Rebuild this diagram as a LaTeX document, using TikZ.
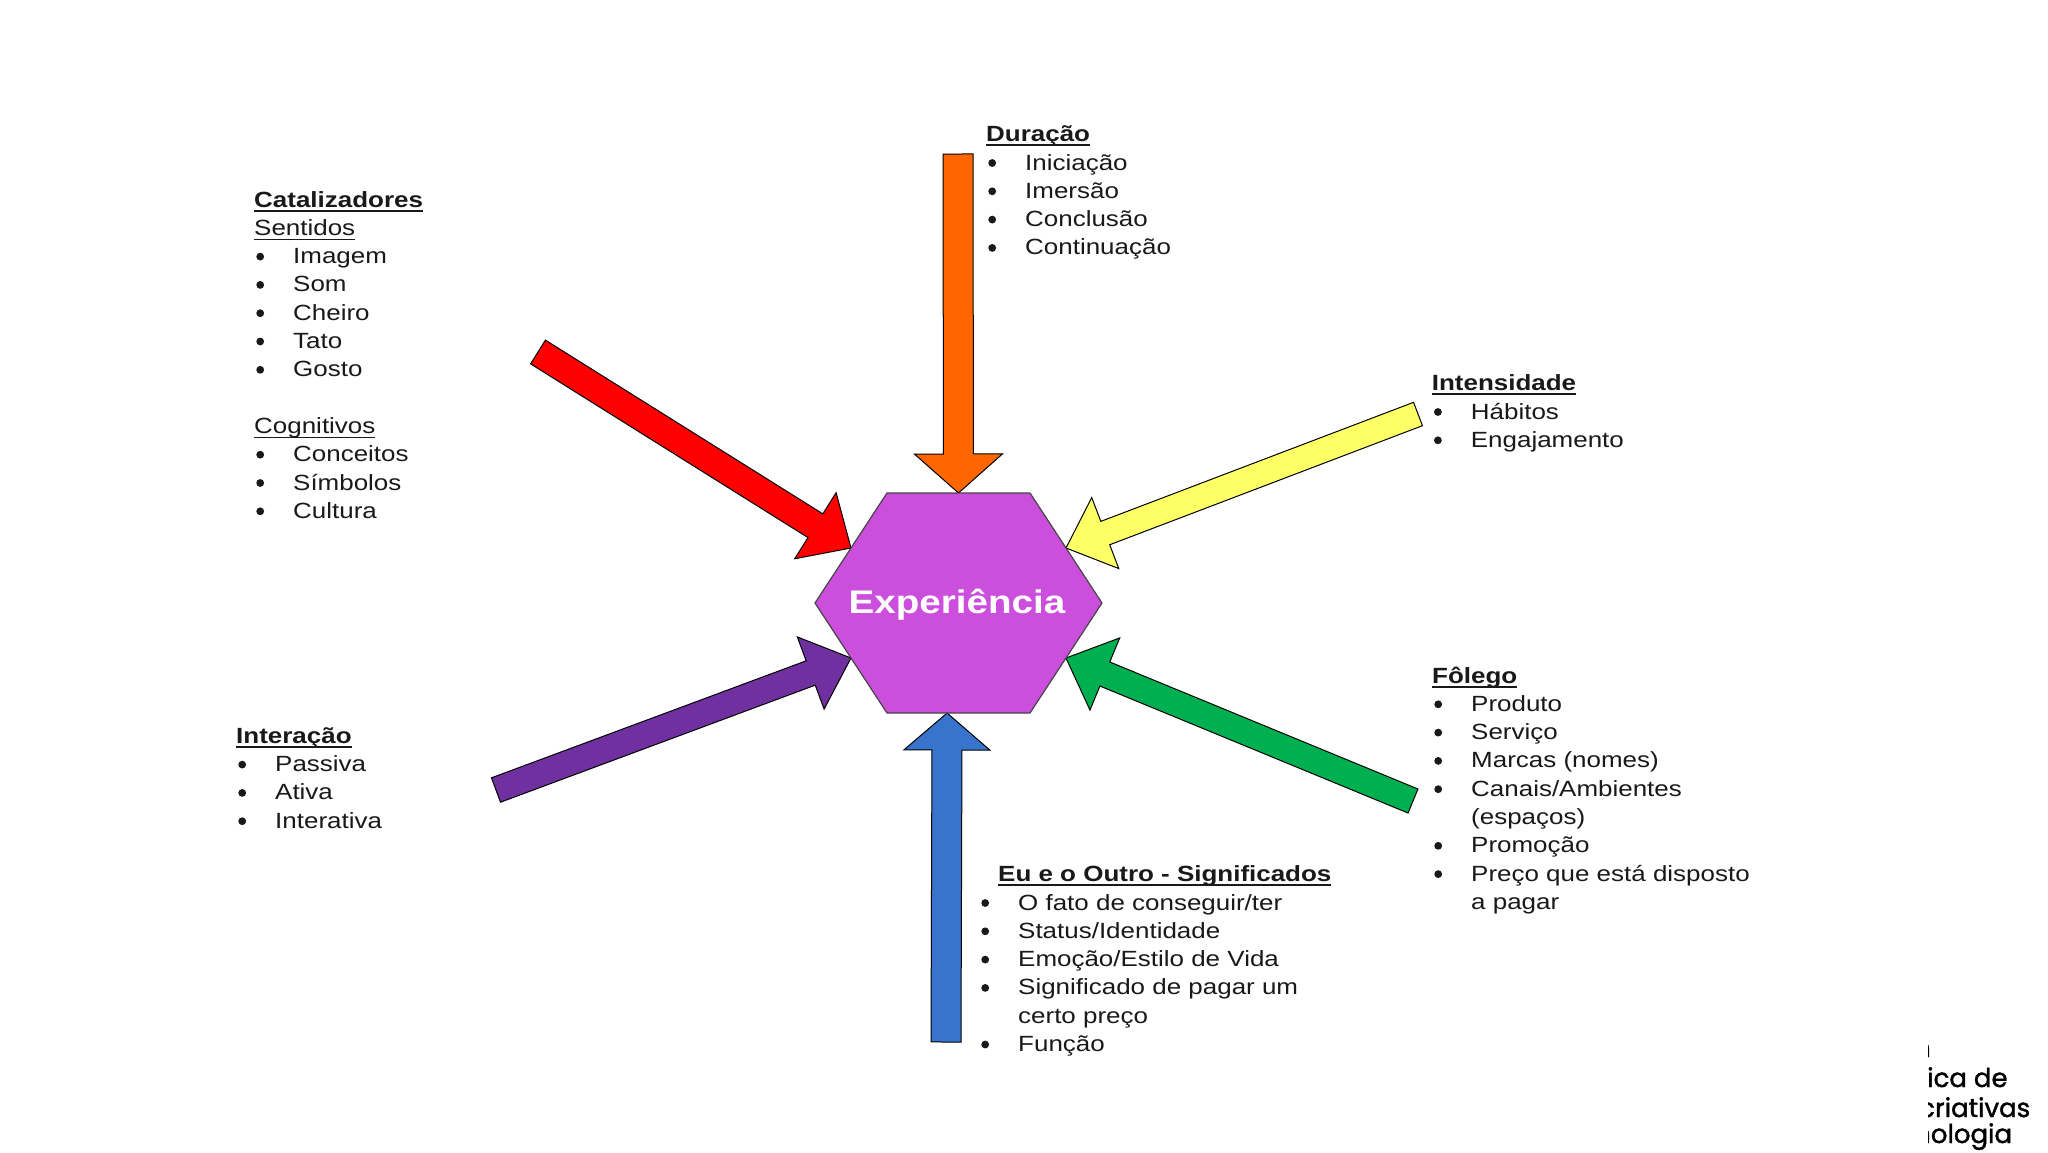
\documentclass[tikz,border=0pt]{standalone}
\usepackage{fontspec}
\setmainfont{Liberation Sans}[FakeStretch=1.18]
\newfontfamily\logofont{Poppins}[FakeBold=1.5]
\usetikzlibrary{calc}

\definecolor{hexfill}{RGB}{204,78,220}
\definecolor{hexline}{RGB}{70,70,70}
\definecolor{arrred}{RGB}{255,0,0}
\definecolor{arrorange}{RGB}{255,102,0}
\definecolor{arryellow}{RGB}{255,255,102}
\definecolor{arrgreen}{RGB}{0,176,80}
\definecolor{arrblue}{RGB}{56,116,204}
\definecolor{arrpurple}{RGB}{112,48,160}
\definecolor{txtcol}{RGB}{25,25,25}

% block arrow: #1 tail, #2 tip, #3 fill, #4 half shaft, #5 half head, #6 head length
\newcommand\barrow[6]{%
  \coordinate (hb) at ($(#2)!#6pt!(#1)$);
  \filldraw[blockarrow, fill=#3]
    ($(#1)!#4pt!90:(#2)$) -- ($(hb)!#4pt!90:(#2)$) -- ($(hb)!#5pt!90:(#2)$) -- (#2)
    -- ($(hb)!#5pt!-90:(#2)$) -- ($(hb)!#4pt!-90:(#2)$) -- ($(#1)!#4pt!-90:(#2)$) -- cycle;}

\newcommand\blk[1]{\vtop{\baselineskip=28.3pt\lineskiplimit=-100pt\lineskip=0pt\halign{##\hfil\cr#1\crcr}}}
\newcommand\ulin[2]{\setbox0=\hbox{#1}\rlap{\rule[-4.6pt]{\wd0}{#2pt}}\box0}
\newcommand\hd[1]{\ulin{\bfseries #1}{2}}
\newcommand\sbh[1]{\ulin{#1}{1.4}}
\newcommand\bdot{\tikz[x=1pt,y=1pt,baseline=0pt]{\useasboundingbox (0,0) rectangle (8,11);\fill[txtcol] (4,7) circle[radius=3.9];}}
\newcommand\bi[1]{\makebox[39pt][l]{\hspace{2pt}\bdot}#1}

\begin{document}
\begin{tikzpicture}[x=1pt,y=-1pt,
  blockarrow/.style={draw=black, line width=1pt, line join=miter},
  txt/.style={anchor=base west, inner sep=0pt, text=txtcol, font=\fontsize{22}{28.3}\selectfont},
  logo/.style={anchor=base west, inner sep=0pt, text=black, font=\logofont\fontsize{26}{30}\selectfont}]
\useasboundingbox (0,0) rectangle (2048,1152);
\fill[white] (0,0) rectangle (2048,1152);

% hexagon vertices
\coordinate (v1) at (815,603);
\coordinate (v2) at (887,493);
\coordinate (v3) at (1030,493);
\coordinate (v4) at (1102,603);
\coordinate (v5) at (1030,713);
\coordinate (v6) at (887,713);

% arrow tails
\coordinate (tred) at (538,352);
\coordinate (torange) at (958,154);
\coordinate (tyellow) at (1418,414);
\coordinate (tgreen) at (1413,801);
\coordinate (tblue) at (946,1042);
\coordinate (tpurple) at (496,790);

% arrow tips on the hexagon
\coordinate (pred) at ($(v1)!0.5!(v2)$);
\coordinate (porange) at ($(v2)!0.5!(v3)$);
\coordinate (pyellow) at ($(v3)!0.5!(v4)$);
\coordinate (pgreen) at ($(v4)!0.5!(v5)$);
\coordinate (pblue) at ($(v6)!0.42!(v5)$);
\coordinate (ppurple) at ($(v1)!0.5!(v6)$);

\barrow{tred}{pred}{arrred}{14}{39}{42}
\barrow{torange}{porange}{arrorange}{15}{44}{39}
\barrow{tyellow}{pyellow}{arryellow}{12.5}{38}{42}
\barrow{tgreen}{pgreen}{arrgreen}{13}{39}{42}
\barrow{tblue}{pblue}{arrblue}{15}{43}{37}
\barrow{tpurple}{ppurple}{arrpurple}{13}{38.5}{43}

% hexagon
\filldraw[fill=hexfill, draw=hexline, line width=1.2pt] (v1) -- (v2) -- (v3) -- (v4) -- (v5) -- (v6) -- cycle;
\node[anchor=base, inner sep=0pt, text=white, font=\fontsize{32.7}{36}\selectfont\bfseries] (exp) at (957,613) {Experiência};

% text blocks
\node[txt] (cat) at (254,207) {\blk{\hd{Catalizadores}\cr \sbh{Sentidos}\cr \bi{Imagem}\cr \bi{Som}\cr \bi{Cheiro}\cr \bi{Tato}\cr \bi{Gosto}\cr \cr \sbh{Cognitivos}\cr \bi{Conceitos}\cr \bi{Símbolos}\cr \bi{Cultura}}};

\node[txt] (dur) at (986,141.7) {\blk{\hd{Duração}\cr \bi{Iniciação}\cr \bi{Imersão}\cr \bi{Conclusão}\cr \bi{Continuação}}};

\node[txt] (int) at (1431.7,390.7) {\blk{\hd{Intensidade}\cr \bi{Hábitos}\cr \bi{Engajamento}}};

\node[txt] (fol) at (1432,683) {\blk{\hd{Fôlego}\cr \bi{Produto}\cr \bi{Serviço}\cr \bi{Marcas (nomes)}\cr \bi{Canais/Ambientes}\cr \hspace{39pt}(espaços)\cr \bi{Promoção}\cr \bi{Preço que está disposto}\cr \hspace{39pt}a pagar}};

\node[txt] (eu) at (979,881.7) {\blk{\hspace{19pt}\hd{Eu e o Outro - Significados}\cr \bi{O fato de conseguir/ter}\cr \bi{Status/Identidade}\cr \bi{Emoção/Estilo de Vida}\cr \bi{Significado de pagar um}\cr \hspace{39pt}certo preço\cr \bi{Função}}};

\node[txt] (inter) at (236,743.3) {\blk{\hd{Interação}\cr \bi{Passiva}\cr \bi{Ativa}\cr \bi{Interativa}}};

% clipped logo text at bottom right
\begin{scope}
\clip (1928,1020) rectangle (2048,1152);
\node[logo] (l1) at (1914,1057) {n};
\node[logo] (l2) at (1927,1087) {ica de};
\node[logo] (l3) at (1919,1117) {criativas};
\node[logo] (l4) at (1914,1143) {nologia};
\end{scope}
\end{tikzpicture}
\end{document}
